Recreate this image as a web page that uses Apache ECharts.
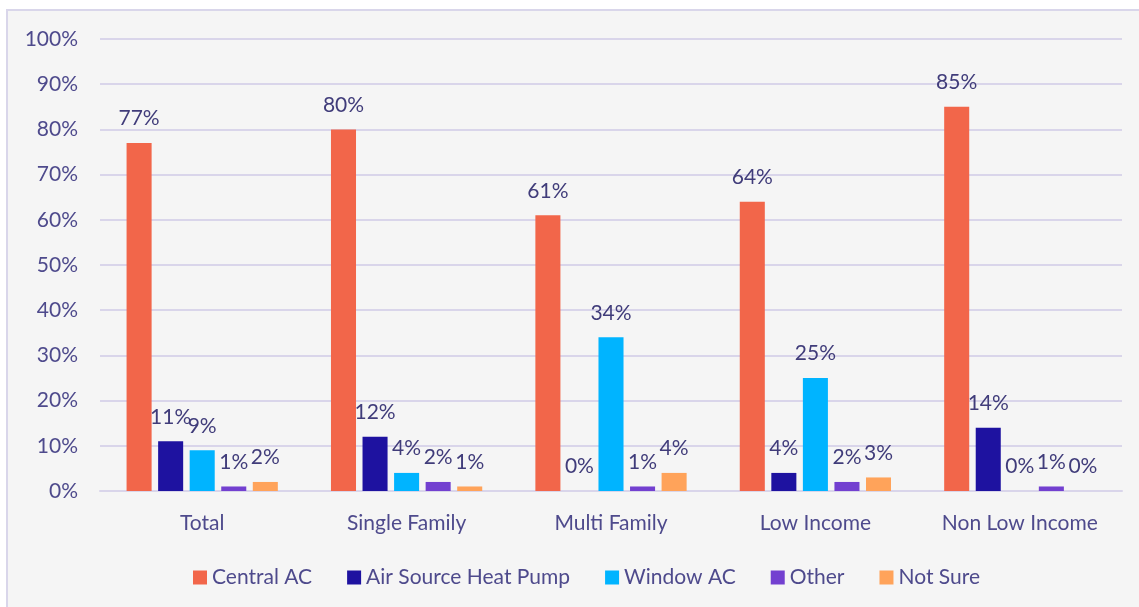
<!DOCTYPE html>
<html lang="en">
<head>
    <meta charset="UTF-8">
    <title>Cooling equipment by segment</title>
    <script src="https://cdn.jsdelivr.net/npm/echarts@6/dist/echarts.min.js"></script>
    <style>
        html, body { margin: 0; padding: 0; background: #ffffff; }
        #frame {
            position: absolute; left: 6px; top: 9px; width: 1140px; height: 605px;
            background: #f5f5f5; border-left: 2px solid #d9d6ea; border-top: 2px solid #d9d6ea;
        }
        #chart { position: absolute; left: 0; top: 0; width: 1139px; height: 607px; }
    </style>
</head>
<body>
<div id="frame"></div>
<div id="chart"></div>
<script>
    var categories = ['Total', 'Single Family', 'Multi Family', 'Low Income', 'Non Low Income'];
    var seriesNames = ['Central AC', 'Air Source Heat Pump', 'Window AC', 'Other', 'Not Sure'];
    var centralAC = [77, 80, 61, 64, 85];
    var heatPump = [11, 12, 0, 4, 14];
    var windowAC = [9, 4, 34, 25, 0];
    var other = [1, 2, 1, 2, 1];
    var notSure = [2, 1, 4, 3, 0];
    var yTicks = [0, 10, 20, 30, 40, 50, 60, 70, 80, 90, 100];

    var colors = ['#f2664a', '#1e12a0', '#00b4ff', '#7340d0', '#ffa35a'];
    var values = [centralAC, heatPump, windowAC, other, notSure];
    var font = 'Lato, "Open Sans", sans-serif';

    var chart = echarts.init(document.getElementById('chart'));
    var option = {
        backgroundColor: 'transparent',
        color: colors,
        textStyle: { fontFamily: font },
        grid: { left: 100, right: 17, top: 39, bottom: 116 },
        legend: {
            data: seriesNames,
            left: 188,
            top: 562,
            icon: 'rect',
            itemWidth: 14,
            itemHeight: 14,
            itemGap: 35,
            textStyle: { color: '#4e4a8c', fontSize: 21, fontFamily: font }
        },
        xAxis: {
            type: 'category',
            data: categories,
            axisLine: { lineStyle: { color: '#d9d5ea', width: 2 } },
            axisTick: { show: false },
            axisLabel: { color: '#4e4a8c', fontSize: 21, margin: 22 }
        },
        yAxis: {
            type: 'value',
            min: yTicks[0],
            max: yTicks[yTicks.length - 1],
            interval: 10,
            axisLine: { show: false },
            axisTick: { show: false },
            axisLabel: { color: '#4e4a8c', fontSize: 21, margin: 22, formatter: '{value}%' },
            splitLine: { lineStyle: { color: '#d9d5ea', width: 2 } }
        },
        series: seriesNames.map(function (name, i) {
            return {
                name: name,
                type: 'bar',
                data: values[i],
                barGap: '26%',
                barCategoryGap: '26%',
                itemStyle: { color: colors[i] },
                label: {
                    show: true,
                    position: 'top',
                    distance: 14,
                    color: '#403c7a',
                    fontSize: 21,
                    fontFamily: font,
                    formatter: '{c}%'
                }
            };
        })
    };
    chart.setOption(option);
</script>
</body>
</html>
